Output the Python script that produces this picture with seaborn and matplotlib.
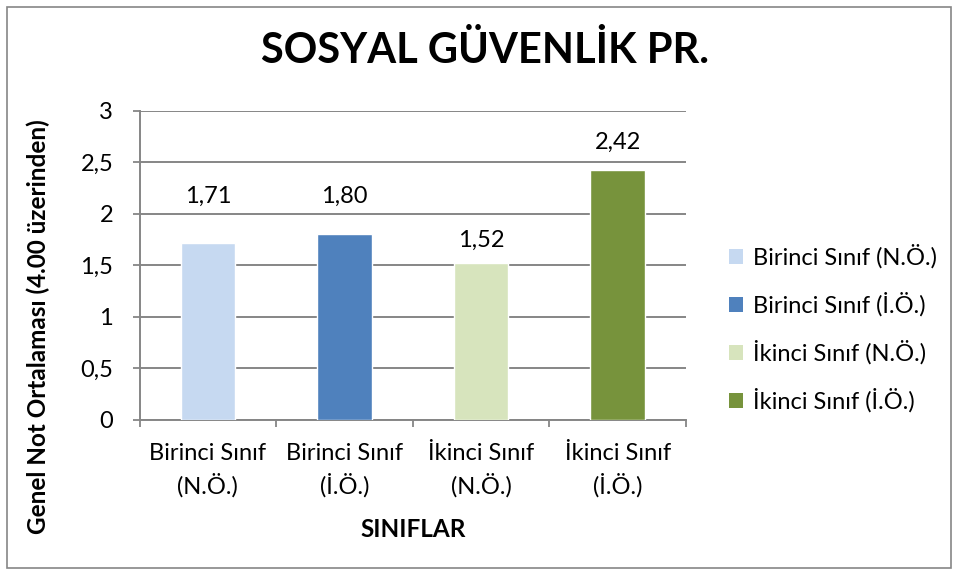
import matplotlib
matplotlib.use('Agg')
import pandas as pd
import seaborn as sns
import matplotlib.pyplot as plt
from matplotlib.patches import Rectangle, Patch
from matplotlib.ticker import FixedLocator

categories = ['Birinci Sınıf (N.Ö.)', 'Birinci Sınıf (İ.Ö.)', 'İkinci Sınıf (N.Ö.)', 'İkinci Sınıf (İ.Ö.)']
tick_labels = ['Birinci Sınıf\n(N.Ö.)', 'Birinci Sınıf\n(İ.Ö.)', 'İkinci Sınıf\n(N.Ö.)', 'İkinci Sınıf\n(İ.Ö.)']
values = [1.71, 1.80, 1.52, 2.42]
value_labels = ['1,71', '1,80', '1,52', '2,42']
label_offsets = [34, 27, 16.5, 20]  # points above the bar top
colors = ['#C6D9F1', '#4F81BD', '#D7E4BD', '#77933C']
y_ticks = [0, 0.5, 1, 1.5, 2, 2.5, 3]
y_tick_labels = ['0', '0,5', '1', '1,5', '2', '2,5', '3']

df = pd.DataFrame({'Sınıf': categories, 'Ortalama': values})

sns.set_theme(style='white')
plt.rcParams['font.family'] = ['Lato', 'DejaVu Sans']
plt.rcParams['text.color'] = 'black'
plt.rcParams['axes.labelcolor'] = 'black'
plt.rcParams['xtick.color'] = 'black'
plt.rcParams['ytick.color'] = 'black'

fig = plt.figure(figsize=(9.59, 5.75), dpi=100)
ax = fig.add_axes([0.1455, 0.2704, 0.5699, 0.5374])

sns.barplot(data=df, x='Sınıf', y='Ortalama', hue='Sınıf', palette=colors,
            saturation=1, width=0.40, legend=False, ax=ax, zorder=3)

for i, (v, lab, off) in enumerate(zip(values, value_labels, label_offsets)):
    ax.annotate(lab, (i, v), xytext=(0, off), textcoords='offset points',
                ha='center', va='center', fontsize=17, color='black')

ax.set_ylim(0, 3)
ax.set_xlim(-0.5, 3.5)
ax.set_yticks(y_ticks)
ax.set_yticklabels(y_tick_labels, fontsize=17)
ax.set_xticks(range(4))
ax.set_xticklabels(tick_labels, fontsize=17, linespacing=1.45)
ax.tick_params(axis='x', which='major', bottom=True, length=0, pad=17)
ax.xaxis.set_minor_locator(FixedLocator([-0.5, 0.5, 1.5, 2.5, 3.5]))
ax.tick_params(axis='x', which='minor', bottom=True, length=5, width=1.3,
               color='#868686', direction='out')
ax.tick_params(axis='y', left=True, length=5, width=1.3, color='#868686',
               labelcolor='black', direction='out', pad=14)

ax.grid(axis='y', color='#868686', linewidth=1.4, zorder=0)
ax.set_axisbelow(True)
for side in ['top', 'right']:
    ax.spines[side].set_visible(False)
for side in ['left', 'bottom']:
    ax.spines[side].set_color('#868686')
    ax.spines[side].set_linewidth(1.4)

ax.set_xlabel('SINIFLAR', fontsize=17.5, fontweight='bold')
ax.xaxis.set_label_coords(0.5, -0.32)
ax.set_ylabel('Genel Not Ortalaması (4.00 üzerinden)', fontsize=17.5, fontweight='bold')
ax.yaxis.set_label_coords(-0.164, 0.30)

fig.text(0.506, 0.913, 'SOSYAL GÜVENLİK PR.', ha='center', va='center',
         fontsize=30, fontweight='bold')

handles = [Patch(facecolor=c, edgecolor='none') for c in colors]
fig.legend(handles, categories, loc='center left', bbox_to_anchor=(0.7602, 0.4287),
           frameon=False, fontsize=17, handlelength=0.6, handleheight=0.6,
           labelspacing=1.0, handletextpad=0.4, borderpad=0, borderaxespad=0)

fig.patches.append(Rectangle((0.007, 0.012), 0.985, 0.975, transform=fig.transFigure,
                             fill=False, edgecolor='#868686', linewidth=1.2))

fig.savefig('out.png', dpi=100)
